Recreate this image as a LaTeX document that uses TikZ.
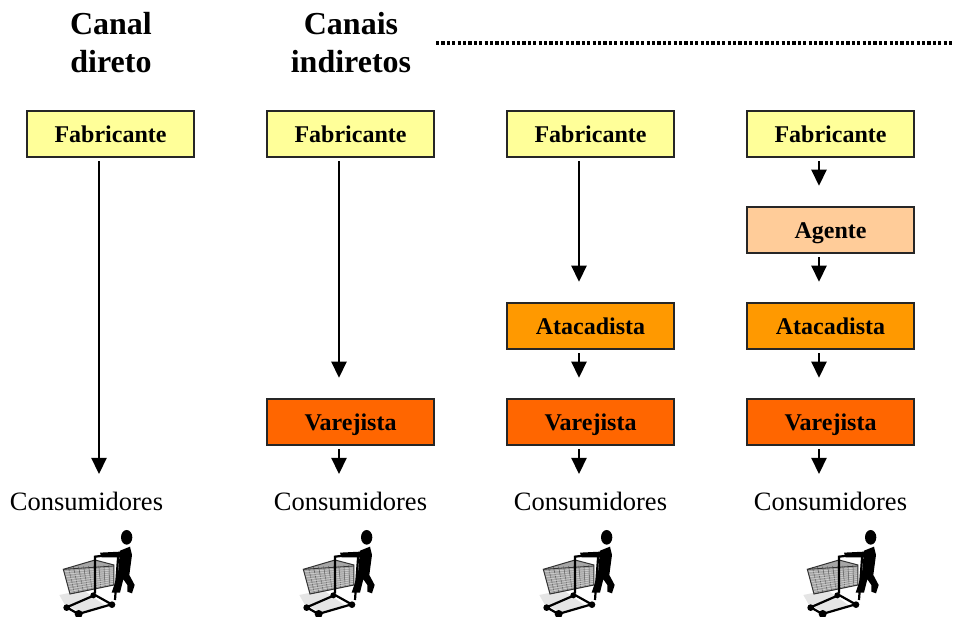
\documentclass[tikz,border=0pt]{standalone}
\usepackage{fontspec}
\setmainfont{Liberation Serif}
\usetikzlibrary{arrows.meta}
\definecolor{corfab}{HTML}{FFFF99}
\definecolor{corage}{HTML}{FFCC99}
\definecolor{corata}{HTML}{FF9900}
\definecolor{corvar}{HTML}{FF6600}
\tikzset{
  caixa/.style={draw=black!85, line width=2pt, minimum width=167.5pt, minimum height=46.5pt, inner sep=0pt,
    text height=24pt, text depth=6pt, font=\fontsize{24}{28}\selectfont\bfseries},
  titulo/.style={align=center, font=\fontsize{32}{38}\selectfont\bfseries},
  cons/.style={font=\fontsize{26.5}{30}\selectfont},
  seta/.style={-{Triangle[width=15pt,length=16pt]}, line width=2.2pt},
  carrinho/.pic={
    \fill[gray!20] (58,255) -- (130,240) -- (200,290) -- (120,305) -- (75,285) -- cycle;
    \fill[gray!70] (70,178) -- (165,150) -- (222,165) -- (222,225) -- (90,252) -- cycle;
    \foreach \t in {0.1,0.2,...,0.95} {
      \draw[black!65, line width=.5pt] (70+152*\t,172-7*\t) -- (90+132*\t,252-27*\t);
      \draw[white!70!gray, line width=.5pt] (70+20*\t,178+74*\t) -- (222,168+57*\t);
    }
    \draw[black!80, line width=1pt] (70,178) -- (165,150) -- (222,165) -- (222,225) -- (90,252) -- cycle;
    \draw[black!80, line width=.8pt] (70,178) -- (222,168);
    \draw[black, line width=2.2pt] (165,250) -- (165,140) -- (235,132) -- (225,270);
    \fill[black] (180,128) -- (240,125) -- (245,142) -- (185,142) -- cycle;
    \draw[black, line width=2.2pt] (80,292) -- (165,255) -- (215,283) -- (115,312) -- cycle;
    \fill[black] (80,293) circle[radius=10];
    \fill[black] (116,312) circle[radius=12];
    \fill[black] (216,284) circle[radius=10];
    \fill[black] (160,256) circle[radius=9];
    % figura
    \fill[black] (260,82) ellipse[x radius=17, y radius=22];
    \fill[black] (240,122) -- (270,110) -- (276,135) -- (268,195) -- (284,225) -- (276,250) -- (262,245) -- (262,225) -- (250,208) -- (240,248) -- (215,248) -- (234,190) -- cycle;
  }
}
\begin{document}
\begin{tikzpicture}[x=1pt,y=-1pt]
\useasboundingbox (0,0) rectangle (954,617);
% titulos
\node[titulo] (tit1) at (111,43) {Canal\\direto};
\node[titulo] (tit2) at (351,43) {Canais\\indiretos};
\coordinate (pontoA) at (436,43);
\coordinate (pontoB) at (953,43);
\draw[line width=3.2pt, dash pattern=on 3.2pt off 2.2pt] (pontoA) -- (pontoB);

% caixas
\node[caixa, fill=corfab] (fab1) at (110.5,134) {Fabricante};
\node[caixa, fill=corfab] (fab2) at (350.5,134) {Fabricante};
\node[caixa, fill=corfab] (fab3) at (590.5,134) {Fabricante};
\node[caixa, fill=corfab] (fab4) at (830.5,134) {Fabricante};
\node[caixa, fill=corage] (age4) at (830.5,230) {Agente};
\node[caixa, fill=corata] (ata3) at (590.5,326) {Atacadista};
\node[caixa, fill=corata] (ata4) at (830.5,326) {Atacadista};
\node[caixa, fill=corvar] (var2) at (350.5,422) {Varejista};
\node[caixa, fill=corvar] (var3) at (590.5,422) {Varejista};
\node[caixa, fill=corvar] (var4) at (830.5,422) {Varejista};

\node[cons] (con1) at (86.5,501) {Consumidores};
\node[cons] (con2) at (350.5,501) {Consumidores};
\node[cons] (con3) at (590.5,501) {Consumidores};
\node[cons] (con4) at (830.5,501) {Consumidores};

% setas
\coordinate (fim1) at (99,474);
\coordinate (fim2) at (339,474);
\coordinate (fim3) at (579,474);
\coordinate (fim4) at (819,474);
\draw[seta] ([xshift=-11.5pt,yshift=-3pt]fab1.south) -- (fim1);
\draw[seta] ([xshift=-11.5pt,yshift=-3pt]fab2.south) -- ([xshift=-11.5pt,yshift=20pt]var2.north);
\draw[seta] ([xshift=-11.5pt,yshift=-3pt]var2.south) -- (fim2);
\draw[seta] ([xshift=-11.5pt,yshift=-3pt]fab3.south) -- ([xshift=-11.5pt,yshift=20pt]ata3.north);
\draw[seta] ([xshift=-11.5pt,yshift=-3pt]ata3.south) -- ([xshift=-11.5pt,yshift=20pt]var3.north);
\draw[seta] ([xshift=-11.5pt,yshift=-3pt]var3.south) -- (fim3);
\draw[seta] ([xshift=-11.5pt,yshift=-3pt]fab4.south) -- ([xshift=-11.5pt,yshift=20pt]age4.north);
\draw[seta] ([xshift=-11.5pt,yshift=-3pt]age4.south) -- ([xshift=-11.5pt,yshift=20pt]ata4.north);
\draw[seta] ([xshift=-11.5pt,yshift=-3pt]ata4.south) -- ([xshift=-11.5pt,yshift=20pt]var4.north);
\draw[seta] ([xshift=-11.5pt,yshift=-3pt]var4.south) -- (fim4);

% carrinhos
\pic[scale=0.3333] at (40,510) {carrinho};
\pic[scale=0.3333] at (280,510) {carrinho};
\pic[scale=0.3333] at (520,510) {carrinho};
\pic[scale=0.3333] at (784,510) {carrinho};
\end{tikzpicture}
\end{document}
